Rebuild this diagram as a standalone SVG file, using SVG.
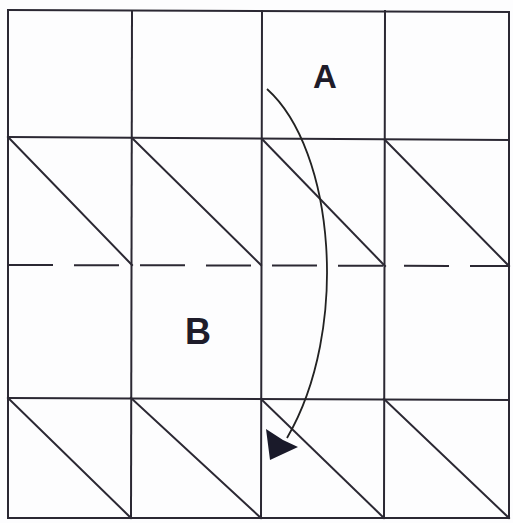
<svg xmlns="http://www.w3.org/2000/svg" width="513" height="523" viewBox="0 0 513 523">
<style>
.g{stroke:#2b2833;stroke-width:2;fill:none;stroke-linecap:square}
.d{stroke:#2b2833;stroke-width:2;fill:none;stroke-dasharray:45 21}
.arc{stroke:#222;stroke-width:1.8;fill:none}
.lbl{font-family:"Liberation Sans",Arial,sans-serif;font-weight:bold;fill:#1e1c2a;text-anchor:middle}
</style>
<rect width="513" height="523" fill="#fdfdfe"/>
<g id="grid">
<line class="g" x1="8" y1="10" x2="509" y2="12"/>
<line class="g" x1="8" y1="137" x2="509" y2="140"/>
<line class="g" x1="8" y1="398" x2="509" y2="400"/>
<line class="g" x1="8" y1="518" x2="509" y2="518"/>
<line class="g" x1="8" y1="10" x2="8" y2="518"/>
<line class="g" x1="132" y1="11" x2="131" y2="518"/>
<line class="g" x1="262" y1="11" x2="261" y2="518"/>
<line class="g" x1="385" y1="11" x2="384" y2="518"/>
<line class="g" x1="509" y1="12" x2="509" y2="518"/>
<line class="d" x1="8" y1="265" x2="510" y2="266"/>
</g>
<g id="diagonals">
<line class="g" x1="8" y1="137" x2="132" y2="265"/>
<line class="g" x1="132" y1="138" x2="261" y2="265"/>
<line class="g" x1="262" y1="139" x2="385" y2="266"/>
<line class="g" x1="385" y1="140" x2="509" y2="266"/>
<line class="g" x1="8" y1="398" x2="131" y2="518"/>
<line class="g" x1="131" y1="398" x2="261" y2="518"/>
<line class="g" x1="261" y1="399" x2="384" y2="518"/>
<line class="g" x1="384" y1="399" x2="509" y2="518"/>
</g>
<g id="connectors">
<path class="arc" d="M267,89 C335,150 350,330 287,438"/>
<path d="M270,460 L266,429 L283,440 L298,447 Z" fill="#1a1a2a"/>
</g>
<g id="label-A"><text class="lbl" x="325" y="88" font-size="33">A</text></g>
<g id="label-B"><text class="lbl" x="198" y="344" font-size="36">B</text></g>
</svg>
